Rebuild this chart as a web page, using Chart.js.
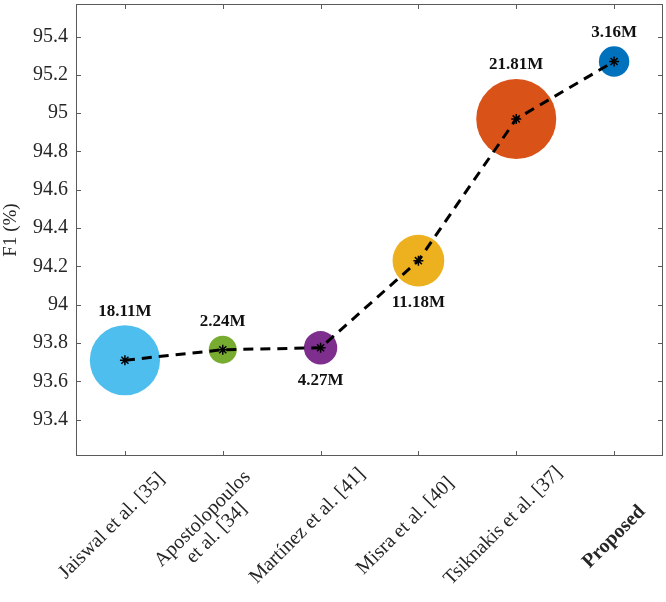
<!DOCTYPE html>
<html>
<head>
<meta charset="utf-8">
<script src="https://cdn.jsdelivr.net/npm/chart.js@4"></script>
<style>
  body { margin: 0; background: #fff; }
  #wrap { width: 666px; height: 602px; }
</style>
</head>
<body>
<div id="wrap"><canvas id="f1Chart" width="666" height="602"></canvas></div>
<script>
// Methods on the x axis (one entry per bubble)
const categories = [
    "Jaiswal et al. [35]",
    ["Apostolopoulos", "et al. [34]"],
    "Martínez et al. [41]",
    "Misra et al. [40]",
    "Tsiknakis et al. [37]",
    "Proposed"
];
// F1 score (%) of each method
const f1Scores = [93.71, 93.765, 93.775, 94.23, 94.97, 95.27];
// Model size in millions of parameters (bubble size + label)
const paramsM = [18.11, 2.24, 4.27, 11.18, 21.81, 3.16];
// Y tick values
const yTicks = [93.4, 93.6, 93.8, 94, 94.2, 94.4, 94.6, 94.8, 95, 95.2, 95.4];

const bubbleColors = ["#4DBEEE", "#77AC30", "#7E2F8E", "#EDB120", "#D95319", "#0072BD"];
const labelBelow = [false, false, true, true, false, false];
const axisColor = "#5a5a5a";
const textColor = "#262626";
const serif = "'Liberation Serif', 'Times New Roman', serif";

// bubble radius in px grows with model size
function bubbleRadius(p) {
    return 11 + 1.33 * p;
}

// Helper: box with inward ticks on all four sides (MATLAB look)
const boxPlugin = {
    id: "boxPlugin",
    afterDraw(chart) {
        const ctx = chart.ctx;
        const a = chart.chartArea;
        const xs = chart.scales.x, ys = chart.scales.y;
        const tl = 5;
        ctx.save();
        ctx.strokeStyle = axisColor;
        ctx.lineWidth = 1;
        ctx.strokeRect(a.left + 0.5, a.top + 0.5, a.right - a.left - 1, a.bottom - a.top - 1);
        ctx.beginPath();
        yTicks.forEach(v => {
            const y = Math.round(ys.getPixelForValue(v)) + 0.5;
            ctx.moveTo(a.left, y); ctx.lineTo(a.left + tl, y);
            ctx.moveTo(a.right, y); ctx.lineTo(a.right - tl, y);
        });
        categories.forEach((c, i) => {
            const x = Math.round(xs.getPixelForTick(i)) + 0.5;
            ctx.moveTo(x, a.bottom); ctx.lineTo(x, a.bottom - tl);
            ctx.moveTo(x, a.top); ctx.lineTo(x, a.top + tl);
        });
        ctx.stroke();
        ctx.restore();
    }
};

// Helper: rotated category labels under the axis (centred, lines centred too)
const xLabelPlugin = {
    id: "xLabelPlugin",
    afterDraw(chart) {
        const ctx = chart.ctx;
        const xs = chart.scales.x;
        const bottom = chart.chartArea.bottom;
        const lh = 20;
        ctx.save();
        ctx.fillStyle = textColor;
        categories.forEach((c, i) => {
            const lines = Array.isArray(c) ? c : [c];
            const bold = i === categories.length - 1;
            ctx.font = (bold ? "bold " : "") + "20px " + serif;
            ctx.save();
            ctx.translate(xs.getPixelForTick(i) - 13 + (bold ? 13 : 0), bottom + 70 + (bold ? 11 : 0));
            ctx.rotate(-Math.PI / 4);
            ctx.textAlign = "center";
            ctx.textBaseline = "middle";
            lines.forEach((l, j) => {
                ctx.fillText(l, 0, (j - (lines.length - 1) / 2) * lh);
            });
            ctx.restore();
        });
        ctx.restore();
    }
};

// Helper: parameter count labels next to each bubble
const sizeLabelPlugin = {
    id: "sizeLabelPlugin",
    afterDatasetsDraw(chart) {
        const ctx = chart.ctx;
        const meta = chart.getDatasetMeta(1);
        ctx.save();
        ctx.font = "bold 17px " + serif;
        ctx.fillStyle = "#111";
        ctx.textAlign = "center";
        ctx.textBaseline = "middle";
        meta.data.forEach((el, i) => {
            const r = bubbleRadius(paramsM[i]);
            const y = labelBelow[i] ? el.y + r + 16 : el.y - r - 14;
            ctx.fillText(paramsM[i].toFixed(2) + "M", el.x, y);
        });
        ctx.restore();
    }
};

const ctx = document.getElementById("f1Chart").getContext("2d");
new Chart(ctx, {
    type: "bubble",
    data: {
        labels: categories,
        datasets: [{
            type: "line",
            data: f1Scores.map((v, i) => ({ x: i, y: v })),
            borderColor: "#000",
            borderWidth: 3,
            borderDash: [10, 7],
            pointStyle: "star",
            pointRadius: 5,
            pointBorderWidth: 1.5,
            pointBorderColor: "#000",
            pointBackgroundColor: "#000",
            fill: false,
            tension: 0,
            order: 0
        }, {
            type: "bubble",
            data: f1Scores.map((v, i) => ({ x: i, y: v, r: bubbleRadius(paramsM[i]) })),
            backgroundColor: bubbleColors,
            borderWidth: 0,
            order: 1
        }]
    },
    options: {
        responsive: false,
        animation: false,
        layout: { autoPadding: false, padding: { left: 0, right: 3, top: 4, bottom: 0 } },
        plugins: {
            legend: { display: false },
            tooltip: { enabled: false }
        },
        scales: {
            x: {
                type: "category",
                offset: true,
                grid: { display: false, drawTicks: false },
                border: { display: false },
                ticks: { display: false },
                afterFit: scale => { scale.height = 146; }
            },
            y: {
                type: "linear",
                min: 93.21,
                max: 95.57,
                grid: { display: false, drawTicks: false },
                border: { display: false },
                afterBuildTicks: scale => { scale.ticks = yTicks.map(v => ({ value: v })); },
                ticks: {
                    padding: 8,
                    color: textColor,
                    font: { family: serif, size: 20 },
                    callback: v => String(+v.toFixed(1))
                },
                title: {
                    display: true,
                    text: "F1 (%)",
                    color: textColor,
                    font: { family: serif, size: 19 },
                    padding: { top: 0, bottom: 0 }
                },
                afterFit: scale => {
                    scale.width = 76;
                    scale.paddingTop = 0;
                    scale.paddingBottom = 0;
                }
            }
        }
    },
    plugins: [boxPlugin, xLabelPlugin, sizeLabelPlugin]
});
</script>
</body>
</html>
